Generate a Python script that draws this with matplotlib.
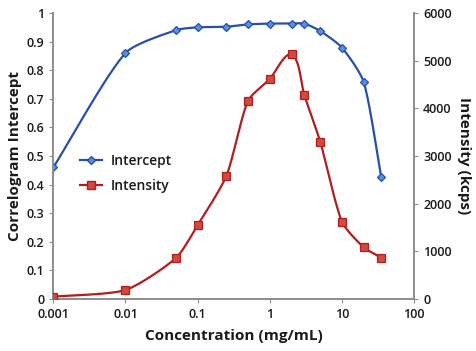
import numpy as np
import matplotlib
matplotlib.use('Agg')
import matplotlib.pyplot as plt
from matplotlib.ticker import FixedLocator, FixedFormatter

plt.rcParams['font.family'] = ['Open Sans', 'DejaVu Sans']

# concentration (mg/mL)
conc = [0.001, 0.01, 0.05, 0.1, 0.25, 0.5, 1, 2, 3, 5, 10, 20, 35]
# correlogram intercept
intercept = [0.46, 0.86, 0.94, 0.95, 0.952, 0.96, 0.963, 0.963, 0.963, 0.937, 0.879, 0.759, 0.427]
# intensity (kcps)
intensity = [50, 190, 860, 1550, 2580, 4160, 4615, 5130, 4280, 3300, 1620, 1085, 870]

xticks = [0.001, 0.01, 0.1, 1, 10, 100]
xlabels = ['0.001', '0.01', '0.1', '1', '10', '100']

blue = '#2850a8'
blue_fill = '#5b8ee0'
red = '#b01e1e'
red_fill = '#d04a40'


def smooth(xs, ys, ymax, k=0.22, n=30):
    # bezier through the points (like excel smoothed lines), worked out in
    # roughly screen proportions: 72 px per decade, 286 px for the y range
    px = np.log10(xs) * 72.0
    py = np.array(ys, dtype=float) / ymax * 286.0
    P = np.column_stack([px, py])
    P = np.vstack([P[0], P, P[-1]])
    out = []
    for i in range(1, len(P) - 2):
        p0, p1, p2, p3 = P[i - 1], P[i], P[i + 1], P[i + 2]
        L = np.hypot(*(p2 - p1))
        d1 = (p2 - p0) / np.hypot(*(p2 - p0))
        d2 = (p3 - p1) / np.hypot(*(p3 - p1))
        c1 = p1 + d1 * L * k
        c2 = p2 - d2 * L * k
        t = np.linspace(0, 1, n)[:, None]
        seg = ((1 - t) ** 3) * p1 + 3 * ((1 - t) ** 2) * t * c1 + 3 * (1 - t) * t ** 2 * c2 + t ** 3 * p2
        out.append(seg)
    out = np.vstack(out)
    return 10 ** (out[:, 0] / 72.0), out[:, 1] / 286.0 * ymax


fig = plt.figure(figsize=(4.76, 3.51), dpi=100)
ax = fig.add_axes([0.112, 0.148, 0.758, 0.815])
ax2 = ax.twinx()

sx, sy_ = smooth(conc, intercept, 1.0)
ax.plot(sx, sy_, color=blue, lw=1.6, zorder=3)
ax.plot(conc, intercept, ls='none', marker='D', ms=4, mfc=blue_fill, mec=blue, mew=0.9, zorder=4)

sx2, sy2 = smooth(conc, intensity, 6000.0)
ax2.plot(sx2, sy2, color=red, lw=1.6, zorder=3)
ax2.plot(conc, intensity, ls='none', marker='s', ms=6, mfc=red_fill, mec=red, mew=0.9, zorder=4)

ax.set_xscale('log')
ax.set_xlim(0.001, 100)
ax.set_ylim(0, 1)
ax2.set_ylim(0, 6000)
ax.xaxis.set_major_locator(FixedLocator(xticks))
ax.xaxis.set_major_formatter(FixedFormatter(xlabels))
ax.xaxis.set_minor_locator(FixedLocator([]))
ax.set_yticks(np.arange(0, 1.01, 0.1))
ax.set_yticklabels(['0'] + ['%.1f' % v for v in np.arange(0.1, 0.95, 0.1)] + ['1'])
ax2.set_yticks(np.arange(0, 6001, 1000))

for a in (ax, ax2):
    for s in a.spines.values():
        s.set_color('#8c8c8c')
        s.set_linewidth(1.2)
    a.spines['top'].set_visible(False)
    a.tick_params(colors='#8c8c8c', labelcolor='#1a1a1a', labelsize=9, length=3, width=0.8)
    for lab in a.get_yticklabels() + a.get_xticklabels():
        lab.set_fontweight('semibold')

ax.set_xlabel('Concentration (mg/mL)', fontsize=11, fontweight='bold', color='#1a1a1a', labelpad=6)
ax.set_ylabel('Correlogram Intercept', fontsize=11, fontweight='bold', color='#1a1a1a', labelpad=3)
ax2.set_ylabel('Intensity (kcps)', fontsize=11, fontweight='bold', color='#1a1a1a', rotation=270, labelpad=14)

h1, = ax.plot([], [], color=blue, lw=1.6, marker='D', ms=4, mfc=blue_fill, mec=blue)
h2, = ax.plot([], [], color=red, lw=1.6, marker='s', ms=6, mfc=red_fill, mec=red)
leg = ax.legend([h1, h2], ['Intercept', 'Intensity'], loc='upper left', bbox_to_anchor=(0.04, 0.55),
                frameon=False, fontsize=10, handlelength=1.6, handletextpad=0.6, labelspacing=0.75)
for t in leg.get_texts():
    t.set_fontweight('semibold')
    t.set_color('#1a1a1a')

fig.savefig('out.png', dpi=100)
